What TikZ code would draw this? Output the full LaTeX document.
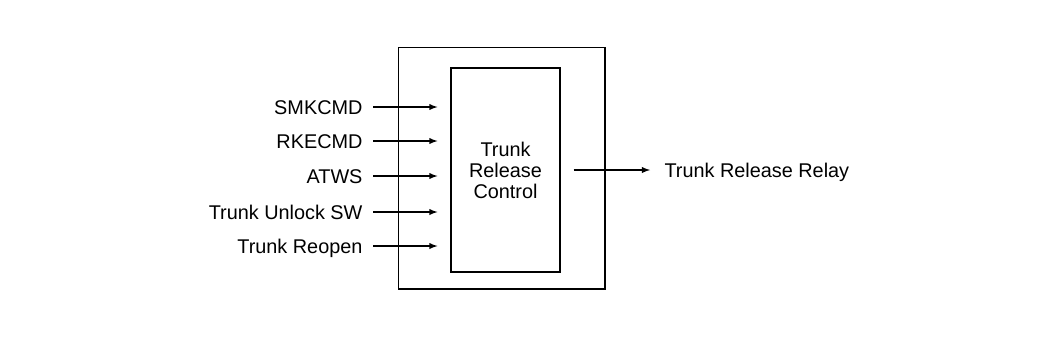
\documentclass[tikz,border=0pt]{standalone}
\usepackage{fontspec}
\setmainfont{Liberation Sans}
\usepackage{tikz}
\usetikzlibrary{positioning}

\begin{document}
\begin{tikzpicture}[
    x=0.02cm, y=-0.02cm,
    >={latex},
    line width=0.6pt,
    font=\fontsize{11.3}{12}\selectfont,
    sig/.style={inner sep=0pt, text height=8pt, text depth=0pt}
]
    \useasboundingbox (0,0) rectangle (1050,339);

    % Outer module box and the control block inside it
    \node[draw, minimum width=4.14cm, minimum height=4.84cm] (module) at (501.5,168) {};
    \node[draw, minimum width=2.18cm, minimum height=4.08cm, align=center] (ctrl) at (505.5,170) {Trunk\\Release\\Control};

    % Input signals
    \node[sig, anchor=east] (smk) at (363,107) {SMKCMD};
    \node[sig, anchor=east] (rke) at (363,141) {RKECMD};
    \node[sig, anchor=east] (atws) at (363,176) {ATWS};
    \node[sig, anchor=east] (unlock) at (363,212) {Trunk Unlock SW};
    \node[sig, anchor=east] (reopen) at (363,246) {Trunk Reopen};

    \draw[->, shorten <=0.2cm, shorten >=0.26cm] (smk.east) -- (smk.east -| ctrl.west);
    \draw[->, shorten <=0.2cm, shorten >=0.26cm] (rke.east) -- (rke.east -| ctrl.west);
    \draw[->, shorten <=0.2cm, shorten >=0.26cm] (atws.east) -- (atws.east -| ctrl.west);
    \draw[->, shorten <=0.2cm, shorten >=0.26cm] (unlock.east) -- (unlock.east -| ctrl.west);
    \draw[->, shorten <=0.2cm, shorten >=0.26cm] (reopen.east) -- (reopen.east -| ctrl.west);

    % Output to the relay
    \node[sig, anchor=west] (relay) at (664,170) {Trunk Release Relay};
    \draw[->, shorten <=0.26cm, shorten >=0.28cm] (ctrl.east) -- (relay.west);

\end{tikzpicture}
\end{document}
